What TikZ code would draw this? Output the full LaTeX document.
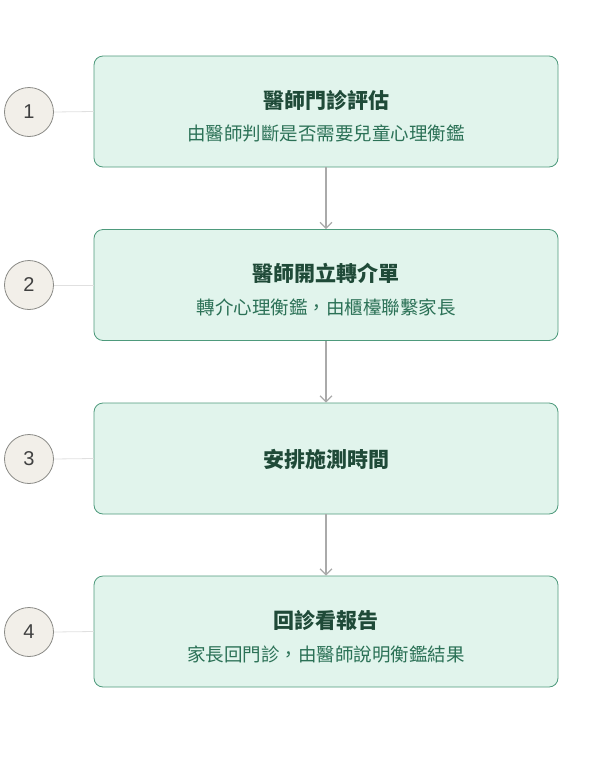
\documentclass[tikz,border=0pt]{standalone}
\usepackage{fontspec}
\setmainfont{Liberation Sans}
\newfontfamily\cjk{Noto Sans CJK TC}
\usetikzlibrary{arrows.meta}
\definecolor{boxfill}{HTML}{E1F4EC}
\definecolor{boxdraw}{HTML}{4E9A7C}
\definecolor{ttl}{HTML}{1F4A38}
\definecolor{sub}{HTML}{2B7156}
\definecolor{cfill}{HTML}{F2EFE9}
\definecolor{cdraw}{HTML}{8A8A86}
\definecolor{arr}{HTML}{AAAAAA}
\begin{document}
\begin{tikzpicture}[x=1pt,y=-1pt,
  box/.style={draw=boxdraw,fill=boxfill,rounded corners=9pt,line width=0.8pt,minimum width=464pt,minimum height=111pt,inner sep=0pt},
  num/.style={circle,draw=cdraw,fill=cfill,line width=0.8pt,minimum size=49pt,inner sep=0pt,font=\fontsize{20}{24}\selectfont,text=black!75},
  ttlt/.style={font=\cjk\bfseries\fontsize{21}{24}\selectfont,text=ttl},
  subt/.style={font=\cjk\fontsize{18.5}{22}\selectfont,text=sub},
  link/.style={draw=black!12,line width=0.8pt},
  flow/.style={draw=arr,line width=1.2pt,-{Straight Barb[length=6pt,width=12pt,line width=1.2pt]}}]
\useasboundingbox (0,0) rectangle (602,758);
\node[box] (b1) at (326,111.5) {};
\node[box] (b2) at (326,285) {};
\node[box] (b3) at (326,458.5) {};
\node[box] (b4) at (326,631.5) {};
\node[ttlt] (t1) at (326,100) {醫師門診評估};
\node[subt] (s1) at (326,133) {由醫師判斷是否需要兒童心理衡鑑};
\node[ttlt] (t2) at (326,273) {醫師開立轉介單};
\node[subt] (s2) at (326,307) {轉介心理衡鑑，由櫃檯聯繫家長};
\node[ttlt] (t3) at (326,459) {安排施測時間};
\node[ttlt] (t4) at (326,620) {回診看報告};
\node[subt] (s4) at (326,654) {家長回門診，由醫師說明衡鑑結果};
\node[num] (n1) at (29,112) {1};
\node[num] (n2) at (29,285) {2};
\node[num] (n3) at (29,459) {3};
\node[num] (n4) at (29,632) {4};
\foreach \i in {1,...,4}{\draw[link] (n\i.east) -- (b\i.west);}
\draw[flow] (b1.south) -- (b2.north);
\draw[flow] (b2.south) -- (b3.north);
\draw[flow] (b3.south) -- (b4.north);
\end{tikzpicture}
\end{document}
